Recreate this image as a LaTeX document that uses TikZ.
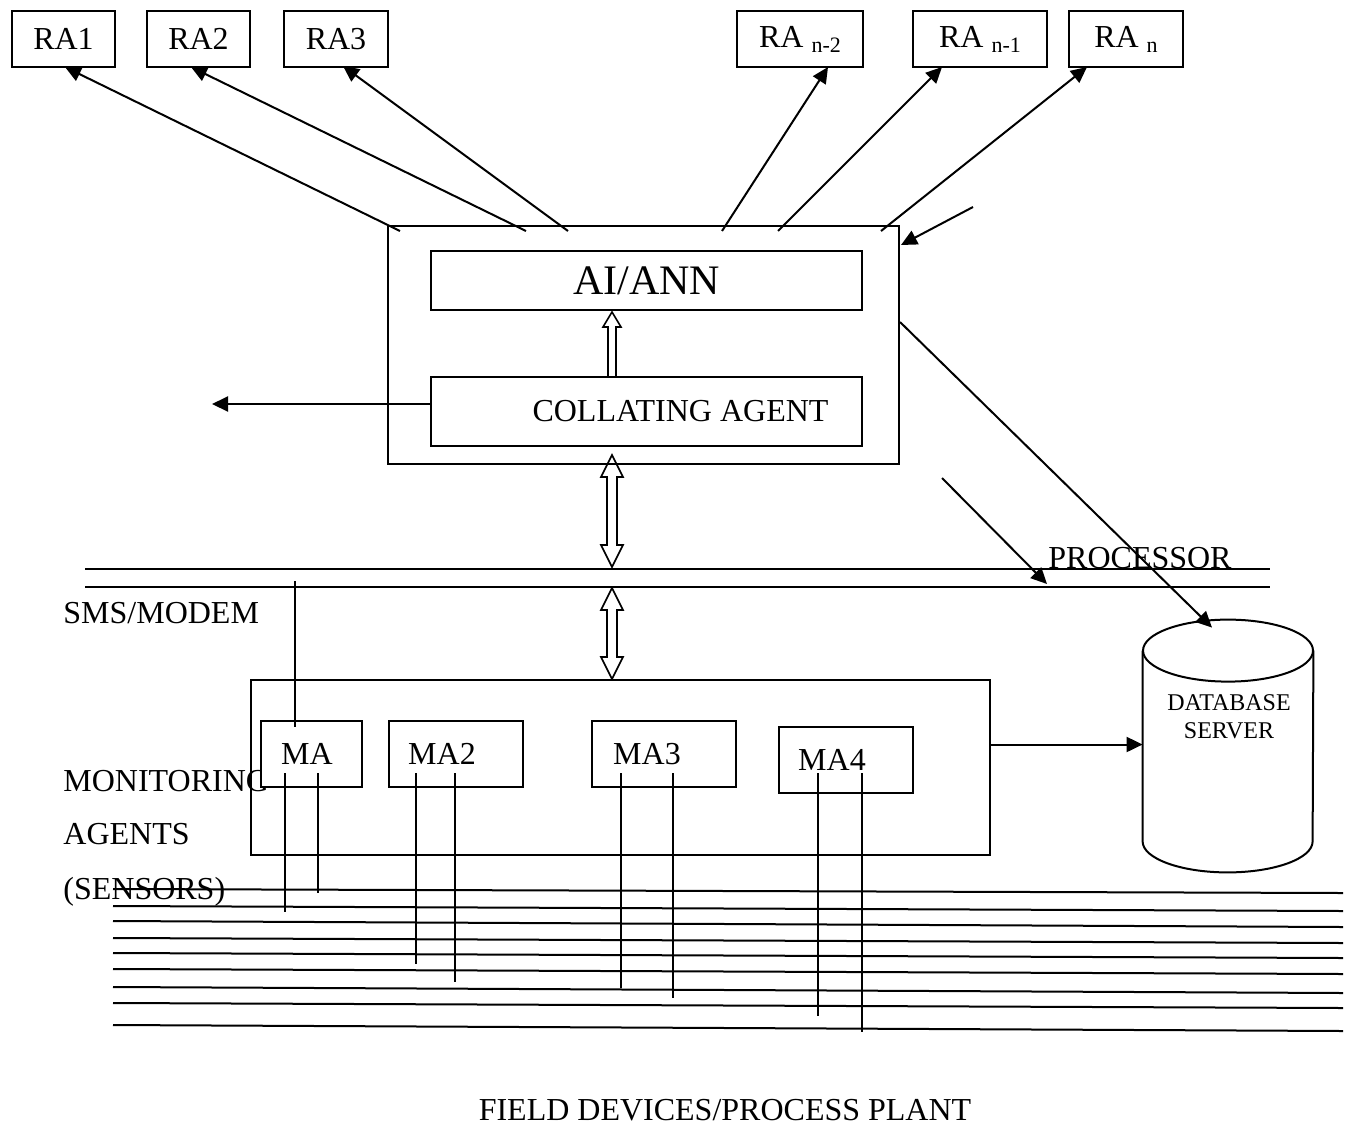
\documentclass[tikz,border=0pt]{standalone}
\usepackage{fontspec}
\setmainfont{Liberation Serif}
\usetikzlibrary{arrows.meta,calc}
\newcommand\rasub[1]{RA \raisebox{-2.5pt}{\fontsize{11}{11}\selectfont #1}}
\begin{document}
\begin{tikzpicture}[x=0.5pt,y=-0.5pt,
  box/.style={draw, line width=1pt, rectangle, inner sep=0pt, font=\fontsize{16}{19}\selectfont},
  wire/.style={line width=1pt},
  arr/.style={line width=1pt, -{Triangle[length=8pt,width=7.5pt]}},
  hollow/.style={draw, line width=0.8pt},
  lbl/.style={anchor=base west, inner sep=0pt, font=\fontsize{16}{19}\selectfont}]
\useasboundingbox (0,0) rectangle (1352,1124);

% remote agents
\node[box, minimum width=51.5pt, minimum height=28pt] (ra1) at (63.5,39) {RA1};
\node[box, minimum width=51.5pt, minimum height=28pt] (ra2) at (198.5,39) {RA2};
\node[box, minimum width=52pt, minimum height=28pt] (ra3) at (336,39) {RA3};
\node[box, minimum width=63pt, minimum height=28pt] (ran2) at (800,39) {\rasub{n-2}};
\node[box, minimum width=67pt, minimum height=28pt] (ran1) at (980,39) {\rasub{n-1}};
\node[box, minimum width=57pt, minimum height=28pt] (ran) at (1126,39) {\rasub{n}};

% processor block
\node[box, minimum width=255.5pt, minimum height=119pt] (proc) at (643.5,345) {};
\node[box, minimum width=215.5pt, minimum height=29.5pt, font=\fontsize{21}{24}\selectfont] (ai) at (646.5,280.5) {AI/ANN};
\node[box, minimum width=215.5pt, minimum height=34.5pt] (coll) at (646.5,411.5) {\hspace*{34pt}COLLATING AGENT};

% monitoring block
\node[box, minimum width=369.5pt, minimum height=87.5pt] (mon) at (620.5,767.5) {};
\node[lbl] (lmon) at (63,791) {MONITORING};
\node[lbl] (lag) at (63,844) {AGENTS};
\node[lbl] (lsen) at (63,899) {(SENSORS)};
\node[box, fill=white, minimum width=50.5pt, minimum height=33pt] (ma1) at (311.5,754) {MA\hspace*{4.5pt}};
\node[box, fill=white, minimum width=67pt, minimum height=33pt] (ma2) at (456,754) {MA2\hspace*{14pt}};
\node[box, fill=white, minimum width=72pt, minimum height=33pt] (ma3) at (664,754) {MA3\hspace*{17pt}};
\node[box, fill=white, minimum width=67pt, minimum height=33pt] (ma4) at (846,759.5) {MA4\hspace*{14pt}};

% database server
\node[minimum width=85pt, minimum height=126pt, inner sep=0pt] (db) at (1228,746) {};
\draw[line width=1pt] ($(db.north)+(0,31)$) ellipse [x radius=42.5pt, y radius=15.5pt];
\draw[line width=1pt] ($(db.north west)+(0,31)$) -- ($(db.south west)+(0,-31)$)
  arc[start angle=180, end angle=360, x radius=42.5pt, y radius=15.5pt]
  -- ($(db.north east)+(0,31)$);
\node[align=center, inner sep=0pt, font=\fontsize{12}{14}\selectfont] (dbtext) at (1229,717) {DATABASE\\ SERVER};

% SMS/modem bus
\coordinate (busa1) at (85,569);  \coordinate (busb1) at (1270,569);
\coordinate (busa2) at (85,587);  \coordinate (busb2) at (1270,587);
\draw[wire] (busa1) -- (busb1);
\draw[wire] (busa2) -- (busb2);
\node[lbl] (lsms) at (63,623) {SMS/MODEM};
\node[lbl] (lproc) at (1048,568) {PROCESSOR};
\coordinate (tap) at (295,581);
\draw[wire] (tap) -- ($(ma1.north)+(-16.5,7)$);

% links to remote agents
\draw[arr] ($(proc.north west)+(13,6)$) -- ($(ra1.south)+(1.5,-1)$);
\draw[arr] ($(proc.north west)+(139,6)$) -- ($(ra2.south)+(-7.5,-1)$);
\draw[arr] ($(proc.north west)+(181,6)$) -- ($(ra3.south)+(7,-2)$);
\draw[arr] ($(proc.north west)+(335,6)$) -- ($(ran2.south)+(28,-1)$);
\draw[arr] ($(proc.north west)+(391,6)$) -- ($(ran1.south)+(-38,-1)$);
\draw[arr] ($(proc.north west)+(494,6)$) -- ($(ran.south)+(-39,-1)$);
\coordinate (inp) at (973,207);
\draw[arr] (inp) -- ($(proc.north east)+(1,20)$);

% collating agent output
\coordinate (cout) at (212,404);
\draw[arr] ($(coll.west)+(0,-7.5)$) -- (cout);

% collating agent to AI/ANN
\coordinate (ua) at ($(coll.north)+(-34.5,0)$);
\coordinate (ub) at ($(ai.south)+(-34.5,1)$);
\draw[hollow] ($(ua)+(-4,0)$) -- ($(ub)+(-4,15)$) -- ($(ub)+(-9,15)$) -- (ub)
  -- ($(ub)+(9,15)$) -- ($(ub)+(4,15)$) -- ($(ua)+(4,0)$);

% processor <-> bus <-> monitoring agents
\coordinate (d1t) at ($(proc.south)+(-31.5,-10)$);
\coordinate (d1b) at (612,567);
\coordinate (d2t) at (612,588);
\coordinate (d2b) at ($(mon.north)+(-8.5,0)$);
\foreach \t/\u in {d1t/d1b, d2t/d2b}{
  \draw[hollow] (\t) -- ($(\t)+(11,22)$) -- ($(\t)+(5,22)$) -- ($(\u)+(5,-22)$)
    -- ($(\u)+(11,-22)$) -- (\u) -- ($(\u)+(-11,-22)$) -- ($(\u)+(-5,-22)$)
    -- ($(\t)+(-5,22)$) -- ($(\t)+(-11,22)$) -- cycle;
}

% processor to database and bus
\coordinate (ptail) at (942,478);
\coordinate (ptip) at (1047,584);
\draw[arr] (ptail) -- (ptip);
\draw[arr] ($(proc.east)+(0,-23)$) -- ($(db.north)+(-16,8)$);
\draw[arr] ($(mon.east)+(0,-23)$) -- ($(db.west)+(0,-1.5)$);

% sensor leads
\foreach \x/\e in {285/912, 318/893, 416/964, 455/982, 621/988, 673/998, 818/1016, 862/1032}{
  \draw[wire] (\x,773) -- (\x,\e);
}

% field device lines
\foreach \l/\r in {889/893, 906/911, 921/927, 938/943, 953/958, 969/974, 987/993, 1003/1008, 1025/1031}{
  \draw[wire] (113,\l) -- (1343,\r);
}

\node[anchor=base, inner sep=0pt, font=\fontsize{16}{19}\selectfont] (field) at (725,1120) {FIELD DEVICES/PROCESS PLANT};
\end{tikzpicture}
\end{document}
